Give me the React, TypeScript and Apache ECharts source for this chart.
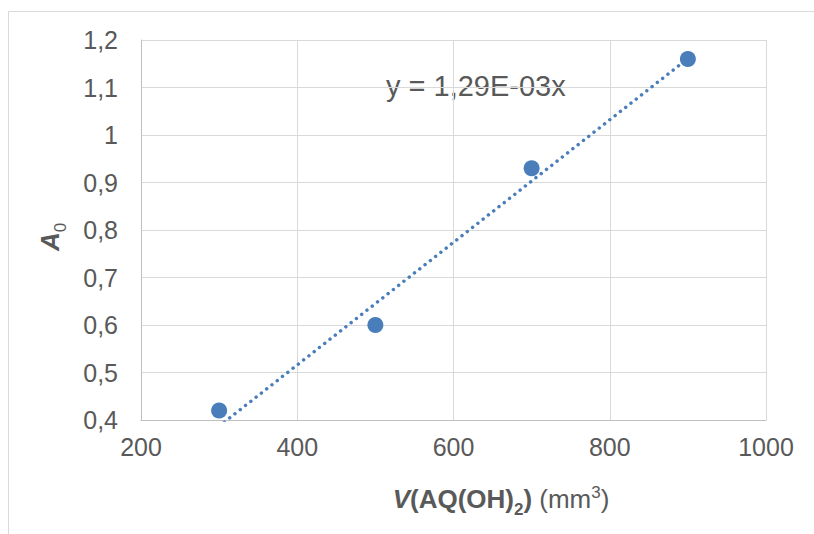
import React, { useEffect, useRef } from "react";
import * as echarts from "echarts";

const xValues = [300, 500, 700, 900];
const yValues = [0.42, 0.6, 0.93, 1.16];
const trendSlope = 1.29e-3;
const trendRange = [300, 900];
const xTicks = { min: 200, max: 1000, interval: 200 };
const yTicks = { min: 0.4, max: 1.2, interval: 0.1 };
const equationText = "y = 1,29E-03x";
const xTitle = "{bi|V}{b|(AQ(OH)}{sub|2}{b|)}{n| (mm}{sup|3}{n|)}";
const yTitle = "{bi|A}{sub0|0}";

const FONT = "'Liberation Sans', Arial, sans-serif";
const BLUE = "#4a7ebb";
const GRAY = "#595959";

export default function App() {
  const ref = useRef<HTMLDivElement>(null);
  useEffect(() => {
    if (!ref.current) return;
    const chart = echarts.init(ref.current, null, { renderer: "svg" });
    const points = xValues.map((x, i) => [x, yValues[i]]);
    const trend = trendRange.map((x) => [x, trendSlope * x]);
    const fmtY = (v: number) => String(Math.round(v * 10) / 10).replace(".", ",");
    const fmtX = (v: number) => String(Math.round(v));
    const rich = {
      bi: { fontSize: 26, fontWeight: "bold", fontStyle: "italic", fill: GRAY, fontFamily: FONT },
      b: { fontSize: 26, fontWeight: "bold", fill: GRAY, fontFamily: FONT },
      n: { fontSize: 26, fill: GRAY, fontFamily: FONT },
      sub: { fontSize: 17, fontWeight: "bold", fill: GRAY, fontFamily: FONT, padding: [20, 0, 0, 0] },
      sub0: { fontSize: 17, fill: GRAY, fontFamily: FONT, padding: [20, 0, 0, 0] },
      sup: { fontSize: 17, fill: GRAY, fontFamily: FONT, padding: [0, 0, 14, 0] },
    };
    chart.setOption({
      animation: false,
      backgroundColor: "#ffffff",
      textStyle: { fontFamily: FONT },
      grid: { left: 141, top: 40, right: 48, bottom: 114 },
      graphic: [
        {
          type: "rect",
          silent: true,
          shape: { x: 8.5, y: 11.5, width: 900, height: 700 },
          style: { fill: "none", stroke: "#d9d9d9", lineWidth: 1 },
        },
        {
          type: "text",
          x: 386,
          y: 86,
          style: {
            text: equationText,
            font: `29px ${FONT}`,
            fill: GRAY,
            verticalAlign: "middle",
          },
        },
        {
          type: "text",
          x: 501,
          y: 499,
          style: {
            text: xTitle,
            rich,
            align: "center",
            verticalAlign: "middle",
          },
        },
        {
          type: "text",
          x: 50,
          y: 237,
          rotation: Math.PI / 2,
          style: {
            text: yTitle,
            rich,
            align: "center",
            verticalAlign: "middle",
          },
        },
      ],
      xAxis: {
        type: "value",
        min: xTicks.min,
        max: xTicks.max,
        interval: xTicks.interval,
        axisLine: { show: true, lineStyle: { color: "#bfbfbf", width: 1 } },
        axisTick: { show: false },
        splitLine: { show: true, lineStyle: { color: "#d9d9d9", width: 1 } },
        axisLabel: { color: GRAY, fontSize: 25, fontFamily: FONT, margin: 14, formatter: fmtX },
      },
      yAxis: {
        type: "value",
        min: yTicks.min,
        max: yTicks.max,
        interval: yTicks.interval,
        axisLine: { show: true, lineStyle: { color: "#bfbfbf", width: 1 } },
        axisTick: { show: false },
        splitLine: { show: true, lineStyle: { color: "#d9d9d9", width: 1 } },
        axisLabel: { color: GRAY, fontSize: 25, fontFamily: FONT, margin: 23, formatter: fmtY },
      },
      series: [
        {
          type: "line",
          data: trend,
          symbol: "none",
          clip: true,
          lineStyle: { color: BLUE, width: 3.5, type: [0.01, 6.7], cap: "round" },
          z: 2,
        },
        {
          type: "scatter",
          data: points,
          symbol: "circle",
          symbolSize: 16,
          itemStyle: { color: BLUE, opacity: 1 },
          z: 3,
        },
      ],
    });
    return () => chart.dispose();
  }, []);
  return (
    <div
      ref={ref}
      style={{ position: "absolute", left: 0, top: 0, width: 814, height: 534 }}
    />
  );
}
